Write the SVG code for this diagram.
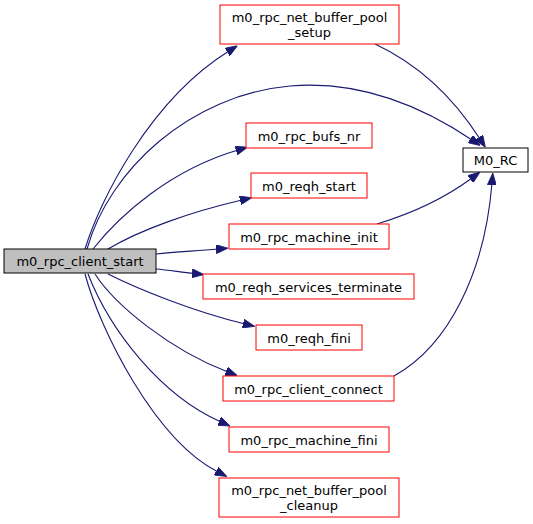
<svg xmlns="http://www.w3.org/2000/svg" width="533" height="524" viewBox="0 0 533 524">
<style>
.n rect{fill:#ffffff;stroke:#ff0000;stroke-width:1}
.n text{font-family:"DejaVu Sans",sans-serif;font-size:13px;fill:#000000;text-anchor:middle}
#root rect{fill:#bfbfbf;stroke:#000000}
#m0rc rect{stroke:#000000}
#edges path{fill:none;stroke:#191970;stroke-width:1.1;marker-end:url(#ah)}
</style>
<defs>
<marker id="ah" viewBox="0 0 12 9" refX="2" refY="4.5" markerWidth="12" markerHeight="9" markerUnits="userSpaceOnUse" orient="auto">
<path d="M0,0 L12,4.5 L0,9 z" fill="#191970" stroke="#191970" stroke-width="0.8"/>
</marker>
</defs>
<rect width="533" height="524" fill="#ffffff"/>
<g id="edges">
<path d="M85,249 C100,200 150,100 229,51"/>
<path d="M87,249 C109,170 190,95 290,86 C360,80 420,105 472,140"/>
<path d="M375,44 C420,65 455,100 480,139"/>
<path d="M93,249 C120,215 170,170 238,150"/>
<path d="M108,249 C140,230 190,212 242,200"/>
<path d="M156,254 C175,252 195,251 218,249"/>
<path d="M377,224 C410,214 445,198 472,178"/>
<path d="M156,269 C168,270 180,272 194,273.5"/>
<path d="M108,274 C140,290 195,312 245,324"/>
<path d="M95,274 C115,305 170,350 228,372"/>
<path d="M394,376 C450,345 485,270 492,183"/>
<path d="M88,274 C110,330 160,395 221,422"/>
<path d="M85,274 C100,330 155,440 218,472"/>
</g>
<g id="root" class="n"><rect x="4" y="249" width="152" height="24"/><text x="80" y="266">m0_rpc_client_start</text></g>
<g id="setup" class="n"><rect x="220" y="5" width="179" height="39"/><text x="309.5" y="22">m0_rpc_net_buffer_pool</text><text x="309.5" y="37">_setup</text></g>
<g id="m0rc" class="n"><rect x="463" y="148" width="65" height="24"/><text x="495.5" y="165">M0_RC</text></g>
<g id="bufs" class="n"><rect x="246" y="123" width="126" height="25"/><text x="309" y="140.5">m0_rpc_bufs_nr</text></g>
<g id="reqhstart" class="n"><rect x="251" y="173" width="116" height="25"/><text x="309" y="190.5">m0_reqh_start</text></g>
<g id="minit" class="n"><rect x="229" y="224" width="160" height="25"/><text x="309" y="241.5">m0_rpc_machine_init</text></g>
<g id="svcterm" class="n"><rect x="203" y="274" width="211" height="25"/><text x="308.5" y="291.5">m0_reqh_services_terminate</text></g>
<g id="reqhfini" class="n"><rect x="256" y="325" width="106" height="25"/><text x="309" y="342.5">m0_reqh_fini</text></g>
<g id="connect" class="n"><rect x="223" y="376" width="171" height="25"/><text x="308.5" y="393.5">m0_rpc_client_connect</text></g>
<g id="mfini" class="n"><rect x="229" y="427" width="160" height="25"/><text x="309" y="444.5">m0_rpc_machine_fini</text></g>
<g id="cleanup" class="n"><rect x="219" y="478" width="180" height="39"/><text x="309" y="495">m0_rpc_net_buffer_pool</text><text x="309" y="510">_cleanup</text></g>
</svg>
